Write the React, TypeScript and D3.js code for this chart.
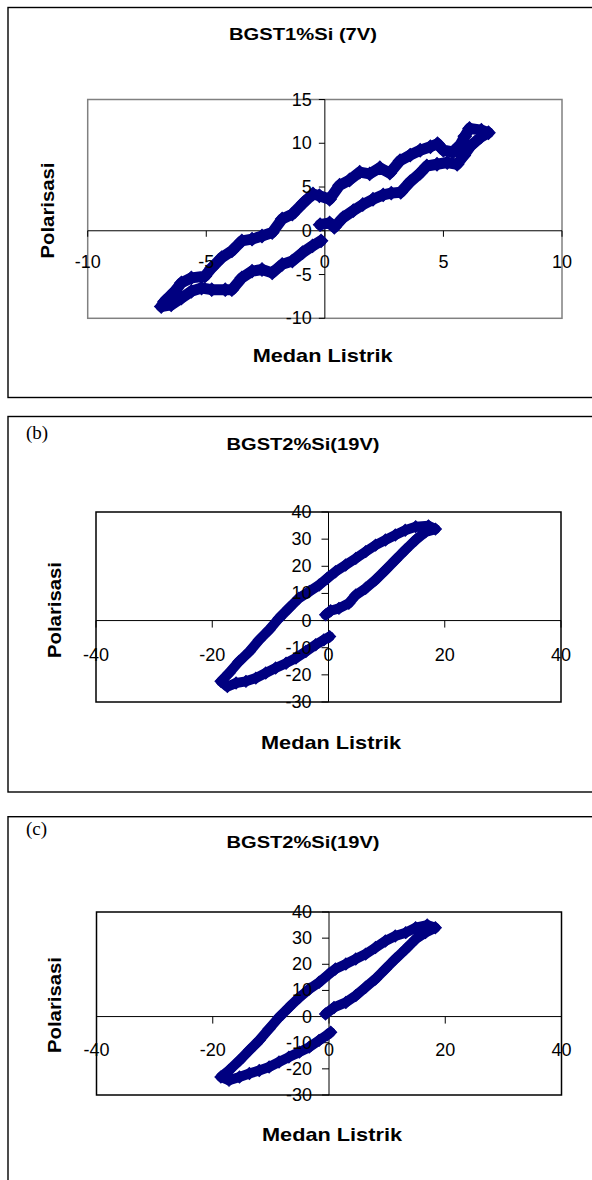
import React from 'react';
import * as d3 from 'd3';

const SANS = '"Liberation Sans", Arial, sans-serif';
const SERIF = '"Liberation Serif", "Times New Roman", serif';
const NAVY = '#000080';

// ---- Panel (a): BGST1%Si (7V) ----
const titleA = 'BGST1%Si (7V)';
const xTicksA = [-10, -5, 0, 5, 10];
const yTicksA = [-10, -5, 0, 5, 10, 15];
const fieldA = [
  -0.2, 0.2, 0.4, 0.77, 1.2, 1.6, 2.03, 2.46, 2.8, 3.2, 3.6, 4.02, 4.3, 4.73, 5.16, 5.58, 5.86, 6.15, 6.57, 6.9,
  6.6, 6.1, 5.9, 5.7, 5.4, 5.0, 4.75, 4.45, 4.02, 3.6, 3.17, 2.74, 2.32, 1.89, 1.47, 1.04, 0.62, 0.2, -0.23, -0.5,
  -0.9, -1.37, -1.8, -2.22, -2.65, -3.07, -3.5, -3.92, -4.35, -4.77, -5.06, -5.63, -6.05, -6.33, -6.76, -6.9,
  -6.48, -6.05, -5.63, -5.2, -4.77, -4.2, -3.92, -3.5, -3.07, -2.65, -2.22, -1.8, -1.37, -0.94, -0.52, -0.16,
];
const polA = [
  0.7, 0.9, 0.4, 1.5, 2.3, 3.0, 3.6, 4.1, 4.3, 4.4, 5.6, 6.6, 7.4, 7.6, 7.8, 7.6, 8.6, 9.7, 10.7, 11.2,
  11.5, 11.7, 10.8, 9.8, 9.0, 9.2, 9.95, 9.6, 9.2, 8.65, 8.0, 6.6, 7.2, 6.5, 6.7, 5.8, 5.2, 3.6, 4.0, 4.2,
  3.2, 1.9, 1.35, -0.2, -0.6, -0.96, -1.15, -2.3, -3.07, -4.23, -5.19, -5.38, -5.96, -6.92, -8.07, -8.65,
  -8.46, -7.69, -6.92, -6.54, -6.73, -6.73, -6.73, -5.38, -4.61, -4.42, -4.81, -3.84, -3.46, -2.5, -1.73, -1.15,
];

// ---- Panel (b): BGST2%Si(19V) ----
const titleB = 'BGST2%Si(19V)';
const xTicksB = [-40, -20, 0, 20, 40];
const yTicksB = [-30, -20, -10, 0, 10, 20, 30, 40];
const fieldB = [
  -0.5, 0.37, 1.8, 3.5, 4.7, 6.4, 8.1, 9.8, 11.5, 13.2, 15, 16.7, 18.4,
  17.2, 15, 13.2, 11.5, 9.8, 8.1, 6.4, 4.7, 2.95, 1.2, -0.2, -1.6, -3.3, -5.1, -6.8, -8.5, -10.2, -11.9, -13.6,
  -15.4, -17.1, -18.5,
  -17.4, -15.9, -14.2, -12.5, -10.8, -9.1, -7.3, -5.6, -3.9, -2.2, -0.8, 0.2,
];
const polB = [
  2.1, 3.6, 4.5, 6.4, 9.4, 11.9, 15, 18.6, 22.3, 26, 29.7, 32.7, 33.7,
  34.9, 34.6, 33.3, 31.5, 29.7, 27.8, 25.4, 22.9, 20.5, 18, 15.6, 13.1, 10.7, 8.2, 4.6, 0.9, -3.4, -7.1, -11.4,
  -15.1, -19.3, -22.4,
  -24.3, -23, -22.4, -21.2, -19.3, -17.5, -15.7, -13.8, -11.4, -8.9, -7.1, -5.9,
];

// ---- Panel (c): BGST2%Si(19V) ----
const titleC = 'BGST2%Si(19V)';
const xTicksC = [-40, -20, 0, 20, 40];
const yTicksC = [-30, -20, -10, 0, 10, 20, 30, 40];
const fieldC = [
  -0.6, 0.86, 2.9, 4.6, 6.3, 8, 9.7, 11.4, 13.2, 14.9, 16.6, 18.3,
  16.9, 14.9, 13.2, 11.4, 9.7, 8, 6.3, 4.6, 2.9, 1.1, 0, -1.7, -3.4, -5.1, -6.9, -8.6, -10.3, -12, -13.7, -15.4,
  -17.2, -18.6,
  -17.2, -15.4, -13.7, -12, -10.3, -8.6, -6.9, -5.1, -3.4, -1.7, -0.3, 0.3,
];
const polC = [
  1, 3.5, 5.4, 8, 11.2, 14.4, 18.2, 22, 25.8, 29.6, 32.1, 34,
  35, 34, 32.1, 30.8, 28.9, 26.4, 23.9, 22, 20.1, 18.2, 16.3, 13.1, 10.5, 7.3, 3.5, -0.3, -4.7, -9.1, -12.9, -16.8,
  -20.6, -23.1,
  -24.4, -23.1, -21.8, -20.6, -19.3, -17.4, -15.5, -13.6, -11.7, -9.1, -7, -6,
];

const xAxisTitle = 'Medan Listrik';
const yAxisTitle = 'Polarisasi';

type PanelProps = {
  frameTop: number;
  frameBottom: number;
  plot: { l: number; r: number; t: number; b: number };
  plotStroke: string;
  xDomain: [number, number];
  yDomain: [number, number];
  xTicks: number[];
  yTicks: number[];
  field: number[];
  pol: number[];
  title: string;
  titleY: number;
  titleWidth: number;
  tag?: string;
  tagY?: number;
  yTitlePos: [number, number];
  xTitlePos: [number, number];
  xLabelOffset: number;
  yLabelGap: number;
  tickLen: number;
  band: number;
  markerSize: number;
};

function Panel(p: PanelProps) {
  const x = d3.scaleLinear().domain(p.xDomain).range([p.plot.l, p.plot.r]);
  const y = d3.scaleLinear().domain(p.yDomain).range([p.plot.b, p.plot.t]);
  const x0 = x(0);
  const y0 = y(0);
  const pts = p.field.map((e, i) => [e, p.pol[i]] as [number, number]);
  const line = d3
    .line<[number, number]>()
    .x((d) => x(d[0]))
    .y((d) => y(d[1]));
  const marker = d3.symbol().type(d3.symbolSquare).size(p.markerSize)() as string;

  return (
    <g>
      <rect
        x={8}
        y={p.frameTop}
        width={620}
        height={p.frameBottom - p.frameTop}
        fill="#fff"
        stroke="#000"
        strokeWidth={1.4}
      />
      {p.tag && (
        <text x={26} y={p.tagY} fontFamily={SERIF} fontSize={19} dominantBaseline="central">
          {p.tag}
        </text>
      )}
      <text
        x={303}
        y={p.titleY}
        fontFamily={SANS}
        fontWeight="bold"
        fontSize={16.5}
        textAnchor="middle"
        textLength={p.titleWidth}
        lengthAdjust="spacingAndGlyphs"
      >
        {p.title}
      </text>
      <rect
        x={p.plot.l}
        y={p.plot.t}
        width={p.plot.r - p.plot.l}
        height={p.plot.b - p.plot.t}
        fill="none"
        stroke={p.plotStroke}
        strokeWidth={1.5}
      />
      <line x1={p.plot.l} x2={p.plot.r} y1={y0} y2={y0} stroke="#000" strokeWidth={1} />
      <line x1={x0} x2={x0} y1={p.plot.t} y2={p.plot.b} stroke="#000" strokeWidth={1} />
      {p.xTicks.map((t) => (
        <line key={'xt' + t} x1={x(t)} x2={x(t)} y1={y0} y2={y0 + p.tickLen} stroke="#000" strokeWidth={1} />
      ))}
      {p.yTicks.map((t) => (
        <line key={'yt' + t} x1={x0 - p.tickLen} x2={x0} y1={y(t)} y2={y(t)} stroke="#000" strokeWidth={1} />
      ))}
      <path
        d={line(pts) as string}
        fill="none"
        stroke={NAVY}
        strokeWidth={p.band}
        strokeLinejoin="round"
        strokeLinecap="round"
      />
      {pts.map((d, i) => (
        <path
          key={'m' + i}
          d={marker}
          transform={`translate(${x(d[0])},${y(d[1])}) rotate(45)`}
          fill={NAVY}
          stroke={NAVY}
          strokeWidth={1}
        />
      ))}
      {p.yTicks.map((t) => (
        <text
          key={'yl' + t}
          x={x0 - p.yLabelGap}
          y={y(t)}
          fontFamily={SANS}
          fontSize={18}
          textAnchor="end"
          dominantBaseline="central"
        >
          {t}
        </text>
      ))}
      {p.xTicks.map((t) => (
        <text
          key={'xl' + t}
          x={x(t)}
          y={y0 + p.xLabelOffset}
          fontFamily={SANS}
          fontSize={18}
          textAnchor="middle"
          dominantBaseline="central"
        >
          {t}
        </text>
      ))}
      <text
        transform={`translate(${p.yTitlePos[0]},${p.yTitlePos[1]}) rotate(-90)`}
        fontFamily={SANS}
        fontWeight="bold"
        fontSize={18.5}
        textAnchor="middle"
        dominantBaseline="central"
        textLength={96}
        lengthAdjust="spacingAndGlyphs"
      >
        {yAxisTitle}
      </text>
      <text
        x={p.xTitlePos[0]}
        y={p.xTitlePos[1]}
        fontFamily={SANS}
        fontWeight="bold"
        fontSize={18.5}
        textAnchor="middle"
        dominantBaseline="central"
        textLength={140}
        lengthAdjust="spacingAndGlyphs"
      >
        {xAxisTitle}
      </text>
    </g>
  );
}

export default function App() {
  return (
    <svg
      width={592}
      height={1180}
      viewBox="0 0 592 1180"
      style={{ position: 'absolute', left: 0, top: 0, background: '#fff' }}
    >
      <rect x={0} y={0} width={592} height={1180} fill="#fff" />
      <Panel
        frameTop={7.5}
        frameBottom={397.5}
        plot={{ l: 87.7, r: 562, t: 99.5, b: 318.3 }}
        plotStroke="#808080"
        xDomain={[-10, 10]}
        yDomain={[-10, 15]}
        xTicks={xTicksA}
        yTicks={yTicksA}
        field={fieldA}
        pol={polA}
        title={titleA}
        titleY={40}
        titleWidth={148}
        yTitlePos={[47, 210.5]}
        xTitlePos={[322.7, 355.3]}
        xLabelOffset={31}
        yLabelGap={13}
        tickLen={6}
        band={11}
        markerSize={90}
      />
      <Panel
        frameTop={416.5}
        frameBottom={792}
        plot={{ l: 96, r: 561, t: 512, b: 702 }}
        plotStroke="#000"
        xDomain={[-40, 40]}
        yDomain={[-30, 40]}
        xTicks={xTicksB}
        yTicks={yTicksB}
        field={fieldB}
        pol={polB}
        title={titleB}
        titleY={450}
        titleWidth={153}
        tag="(b)"
        tagY={432}
        yTitlePos={[54.6, 610]}
        xTitlePos={[331, 742]}
        xLabelOffset={34.5}
        yLabelGap={17}
        tickLen={7}
        band={10}
        markerSize={72}
      />
      <Panel
        frameTop={816.7}
        frameBottom={1200}
        plot={{ l: 96.5, r: 561.5, t: 912, b: 1095 }}
        plotStroke="#000"
        xDomain={[-40, 40]}
        yDomain={[-30, 40]}
        xTicks={xTicksC}
        yTicks={yTicksC}
        field={fieldC}
        pol={polC}
        title={titleC}
        titleY={848}
        titleWidth={153}
        tag="(c)"
        tagY={828}
        yTitlePos={[54.6, 1005]}
        xTitlePos={[332, 1134.7]}
        xLabelOffset={33.5}
        yLabelGap={17}
        tickLen={7}
        band={10}
        markerSize={72}
      />
    </svg>
  );
}
